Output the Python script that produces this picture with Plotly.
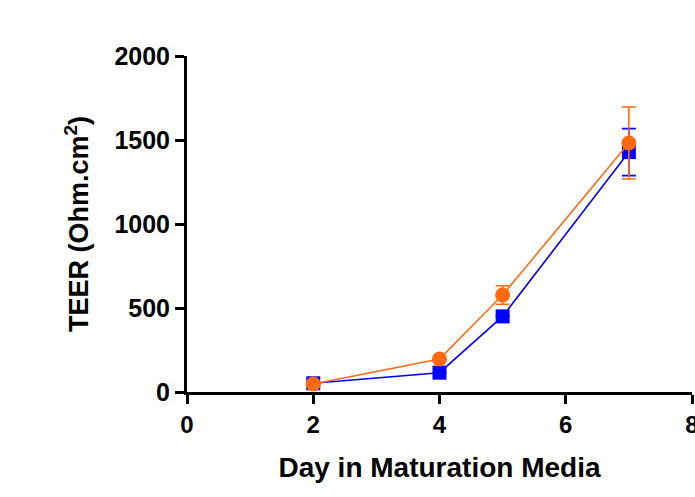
import plotly.graph_objects as go

days = [2, 4, 5, 7]
blue_vals = [52, 115, 450, 1428]
blue_err = [0, 0, 0, 140]
orange_vals = [48, 196, 577, 1482]
orange_err = [0, 0, 55, 214]

x_ticks = [0, 2, 4, 6, 8]
y_ticks = [0, 500, 1000, 1500, 2000]

fig = go.Figure()
fig.add_trace(go.Scatter(
    x=days, y=blue_vals, mode="lines+markers",
    line=dict(color="#0000FF", width=1.6),
    marker=dict(symbol="square", size=14, color="#0000FF"),
    error_y=dict(type="data", array=blue_err, visible=True, color="#0000FF", thickness=1.6, width=7),
    showlegend=False, cliponaxis=False,
))
fig.add_trace(go.Scatter(
    x=days, y=orange_vals, mode="lines+markers",
    line=dict(color="#FF6A10", width=1.6),
    marker=dict(symbol="circle", size=15, color="#FF6A10"),
    error_y=dict(type="data", array=orange_err, visible=True, color="#FF6A10", thickness=1.6, width=7),
    showlegend=False, cliponaxis=False,
))

font_family = "Liberation Sans, Arial, sans-serif"
fig.update_layout(
    width=695, height=497,
    margin=dict(l=187, r=3, t=56, b=105),
    paper_bgcolor="white", plot_bgcolor="white",
    font=dict(family=font_family, color="black"),
    xaxis=dict(
        range=[0, 8], tickvals=x_ticks, ticktext=[str(v) for v in x_ticks],
        automargin=False, ticklabeloverflow="allow",
        showline=True, linecolor="black", linewidth=3,
        ticks="outside", ticklen=9, tickwidth=3, tickcolor="black",
        showgrid=False, zeroline=False,
        tickfont=dict(size=24, family=font_family, color="black", weight="bold"),
        title=dict(text="<b>Day in Maturation Media</b>", font=dict(size=28, family=font_family), standoff=21),
    ),
    yaxis=dict(
        range=[0, 2000], tickvals=y_ticks, ticktext=[str(v) for v in y_ticks],
        automargin=False,
        showline=True, linecolor="black", linewidth=3,
        ticks="outside", ticklen=9, tickwidth=3, tickcolor="black",
        showgrid=False, zeroline=False,
        tickfont=dict(size=25, family=font_family, color="black", weight="bold"),
        title=dict(text="<b>TEER (Ohm.cm<sup>2</sup>)</b>", font=dict(size=27, family=font_family), standoff=18),
    ),
)
fig.write_html(
    "out.html",
    config={"displayModeBar": False},
    post_script="document.body.style.margin='0';document.body.style.overflow='hidden';",
)
